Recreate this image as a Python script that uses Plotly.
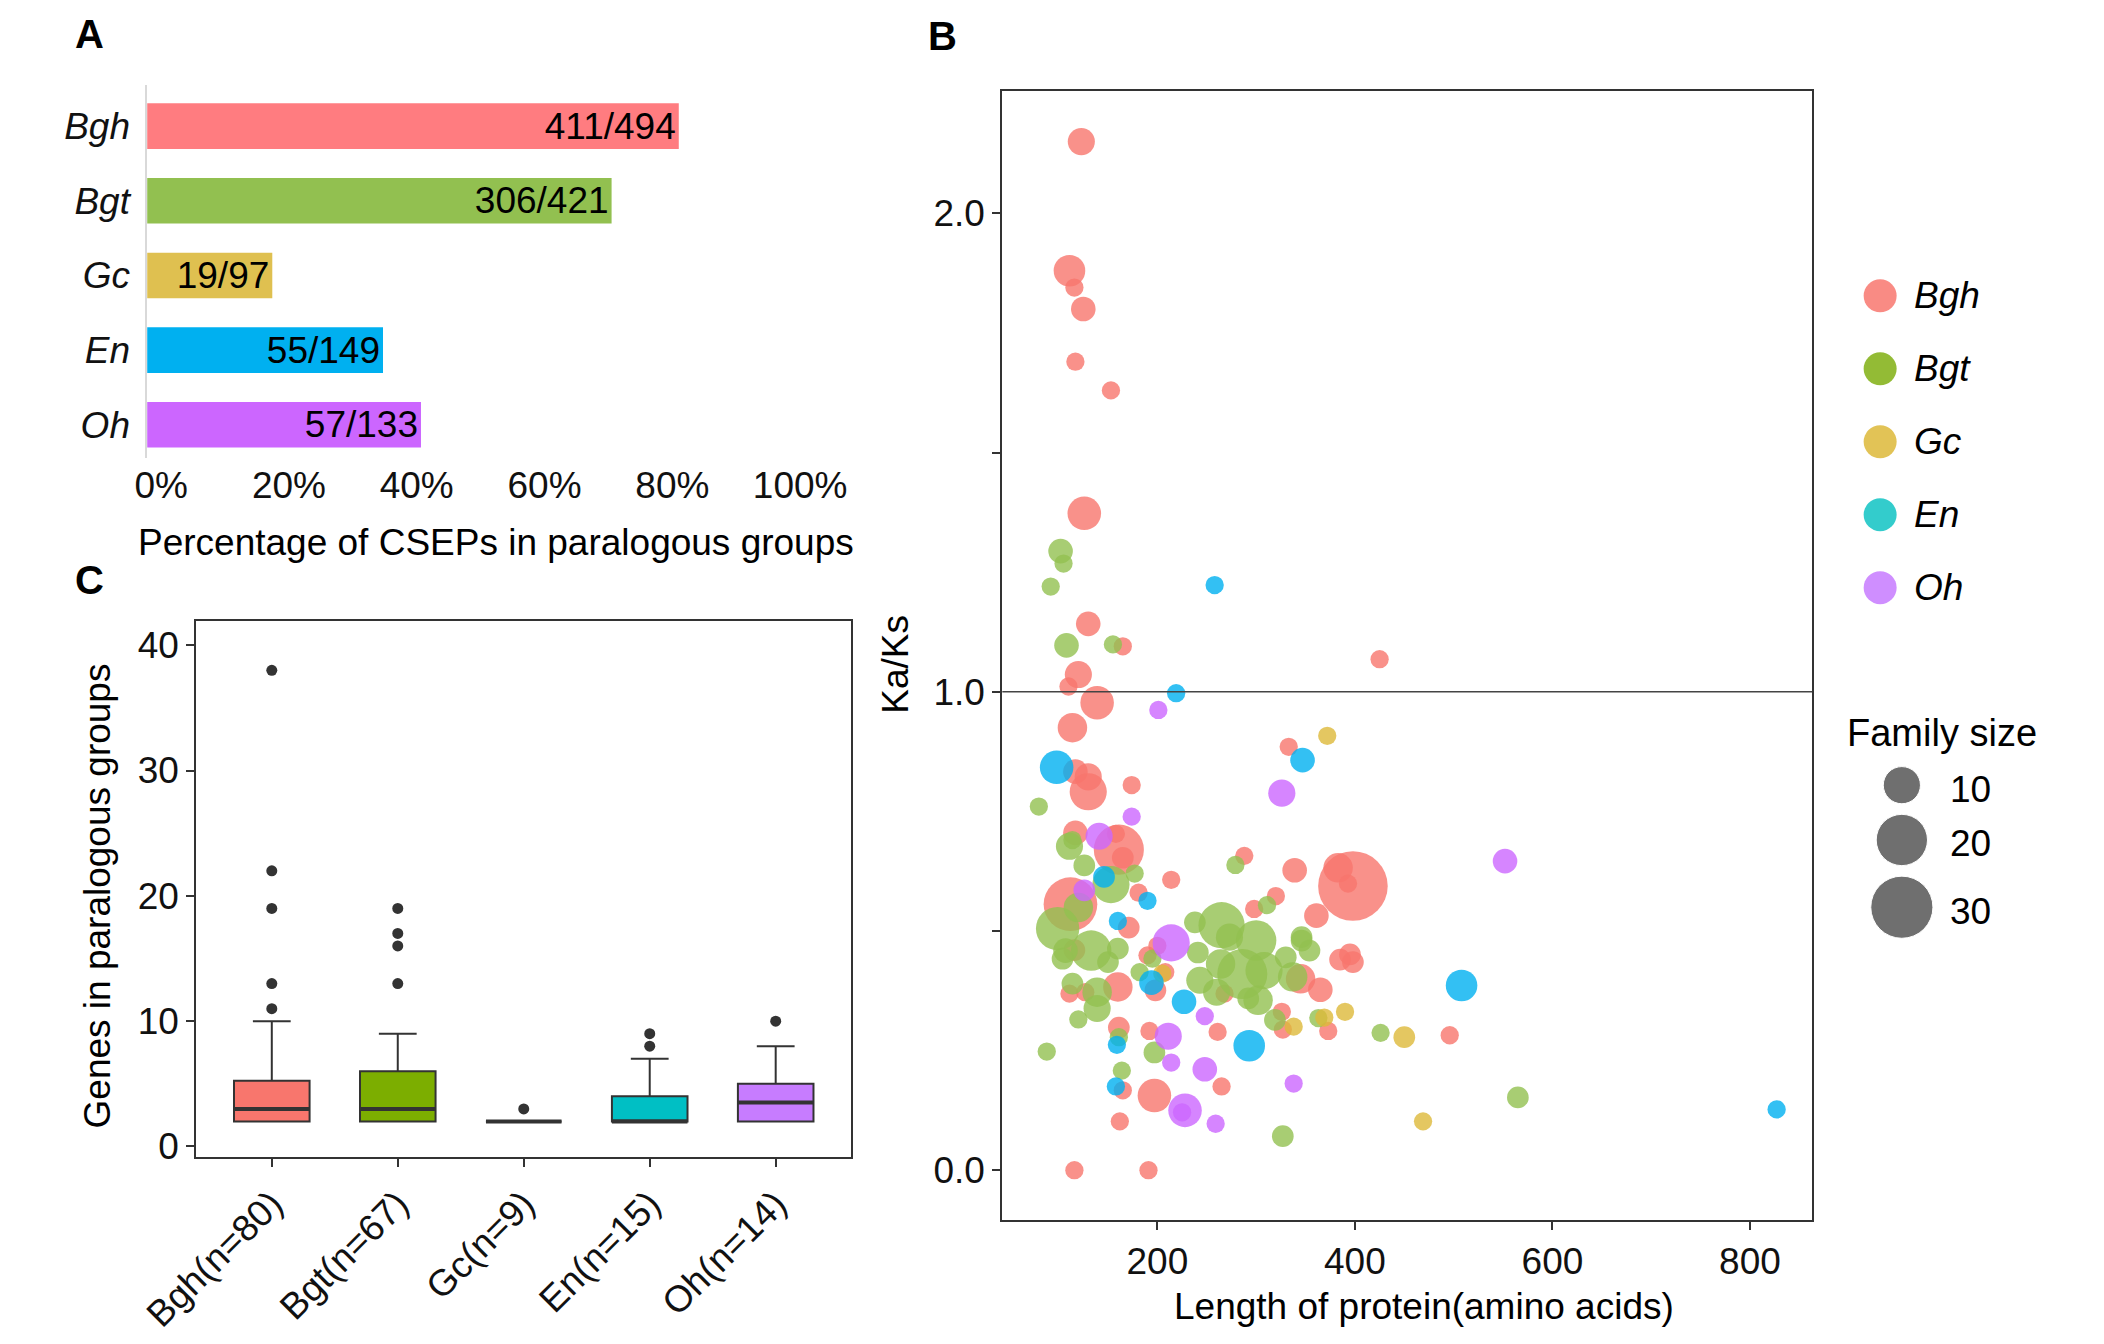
import numpy as np
import plotly.graph_objects as go

W, H = 2104, 1344
FONT = "Liberation Sans, Arial, sans-serif"
FS = 37

# ---- panel A data ----
species = ["Bgh", "Bgt", "Gc", "En", "Oh"]
cseps_paralog = [411, 306, 19, 55, 57]
cseps_total = [494, 421, 97, 149, 133]
bar_colors = ["#FF7C80", "#92C050", "#DFC050", "#00B0F0", "#CC66FF"]

# ---- panel C data (box stats) ----
box_labels = ["Bgh(n=80)", "Bgt(n=67)", "Gc(n=9)", "En(n=15)", "Oh(n=14)"]
box_q1 = [2, 2, 2, 2, 2]
box_median = [3, 3, 2, 2, 3.5]
box_q3 = [5.25, 6, 2, 4, 5]
box_low = [2, 2, 2, 2, 2]
box_high = [10, 9, 2, 7, 8]
box_colors = ["#F8766D", "#7CAE00", "#DDB93A", "#00BFC4", "#C77CFF"]
outlier_group = [0, 0, 0, 0, 0, 1, 1, 1, 1, 2, 3, 3, 4]
outlier_value = [11, 13, 19, 22, 38, 13, 16, 17, 19, 3, 8, 9, 10]

# ---- panel B data: length, Ka/Ks, family size ----
bgh_len = [123, 111, 116, 125, 117, 153, 126, 130, 165, 425, 120, 110, 139, 114, 117, 130, 130, 174, 117, 158,
           161, 165, 214, 181, 112, 171, 288, 333, 339, 398, 383, 393, 320, 298, 361, 116, 160, 111, 127, 161,
           165, 162, 116, 191, 197, 265, 192, 261, 208, 198, 190, 200, 268, 345, 365, 385, 395, 398, 326, 327,
           373, 496]
bgh_kaks = [2.15, 1.88, 1.845, 1.80, 1.69, 1.63, 1.373, 1.142, 1.095, 1.068, 1.036, 1.011, 0.977, 0.925, 0.833,
            0.822, 0.791, 0.805, 0.705, 0.703, 0.670, 0.653, 0.607, 0.580, 0.556, 0.507, 0.657, 0.885, 0.627,
            0.594, 0.632, 0.599, 0.573, 0.546, 0.532, 0.460, 0.383, 0.369, 0.372, 0.298, 0.167, 0.102, 0.0, 0.0,
            0.156, 0.175, 0.291, 0.289, 0.414, 0.376, 0.449, 0.469, 0.369, 0.400, 0.377, 0.440, 0.451, 0.435,
            0.331, 0.294, 0.291, 0.282]
bgh_size = [5, 7, 2, 4, 2, 2, 8, 4, 2, 2, 5, 2, 8, 6, 4, 5, 10, 2, 4, 2, 19, 3, 2, 2, 22, 3, 2, 2, 4, 38,
            6, 2, 2, 2, 4, 3, 6, 2, 2, 3, 2, 2, 2, 2, 8, 2, 2, 2, 2, 3, 2, 2, 2, 6, 4, 3, 3, 3, 2, 2, 2, 2]

bgt_len = [102, 105, 92, 108, 155, 80, 111, 114, 126, 177, 153, 99, 120, 238, 265, 279, 311, 346, 133, 107,
           104, 150, 160, 114, 139, 139, 120, 88, 161, 164, 197, 182, 195, 241, 243, 260, 264, 273, 300, 346,
           354, 330, 286, 308, 337, 302, 292, 319, 363, 426, 327, 565]
bgt_kaks = [1.294, 1.268, 1.220, 1.097, 1.099, 0.760, 0.677, 0.690, 0.637, 0.620, 0.597, 0.505, 0.549, 0.518,
            0.512, 0.638, 0.554, 0.487, 0.459, 0.459, 0.442, 0.435, 0.463, 0.390, 0.372, 0.338, 0.315, 0.248,
            0.278, 0.208, 0.246, 0.414, 0.442, 0.455, 0.397, 0.372, 0.431, 0.487, 0.480, 0.480, 0.459, 0.445,
            0.410, 0.417, 0.404, 0.355, 0.359, 0.314, 0.318, 0.287, 0.071, 0.152]
bgt_size = [4, 2, 2, 4, 2, 2, 5, 2, 3, 2, 10, 14, 6, 3, 16, 2, 2, 3, 12, 4, 3, 3, 3, 3, 6, 5, 2, 2, 2, 2,
            3, 2, 2, 3, 5, 5, 6, 5, 12, 3, 3, 3, 19, 10, 6, 6, 3, 3, 2, 2, 3, 3]

gc_len = [372, 205, 390, 338, 369, 450, 469]
gc_kaks = [0.908, 0.411, 0.331, 0.300, 0.319, 0.278, 0.102]
gc_size = [2, 2, 2, 2, 2, 3, 2]

en_len = [258, 219, 98, 146, 190, 160, 347, 159, 158, 227, 293, 194, 508, 827]
en_kaks = [1.223, 0.997, 0.842, 0.613, 0.563, 0.521, 0.857, 0.262, 0.175, 0.352, 0.260, 0.392, 0.386, 0.127]
en_size = [2, 2, 8, 3, 2, 2, 4, 2, 2, 4, 7, 4, 7, 2]

oh_len = [201, 174, 141, 126, 214, 326, 552, 228, 225, 259, 248, 214, 211, 248, 338]
oh_kaks = [0.962, 0.739, 0.698, 0.585, 0.475, 0.788, 0.646, 0.125, 0.121, 0.097, 0.211, 0.225, 0.280,
           0.322, 0.181]
oh_size = [2, 2, 5, 3, 10, 5, 4, 8, 2, 2, 4, 2, 5, 2, 2]

point_colors = ["#F8766D", "#92C050", "#DDB93A", "#00B0F0", "#CC66FF"]
legend_colors = ["#F98B84", "#93BB35", "#E2C356", "#33CCCC", "#CF8EFF"]
size_breaks = [10, 20, 30]


def fx(p):
    return p / W


def fy(p):
    return 1 - p / H


def diam(v):
    return 3 + 10.8 * np.sqrt(np.asarray(v, dtype=float))


fig = go.Figure()

# Panel A: horizontal bars
pct = [n / d * 100 for n, d in zip(cseps_paralog, cseps_total)]
fig.add_trace(go.Bar(
    x=pct, y=list(range(len(species))), orientation="h", width=0.61,
    marker=dict(color=bar_colors, line=dict(width=0)),
    text=[f"{n}/{d}" for n, d in zip(cseps_paralog, cseps_total)],
    textposition="inside", insidetextanchor="end", constraintext="none",
    textfont=dict(size=FS, color="black", family=FONT),
    xaxis="x", yaxis="y", hoverinfo="skip"))

# Panel B: bubble scatter
groups = [(bgh_len, bgh_kaks, bgh_size), (bgt_len, bgt_kaks, bgt_size), (gc_len, gc_kaks, gc_size),
          (en_len, en_kaks, en_size), (oh_len, oh_kaks, oh_size)]
for (lx, ky, sz), col in zip(groups, point_colors):
    fig.add_trace(go.Scatter(
        x=lx, y=ky, mode="markers", xaxis="x2", yaxis="y2",
        marker=dict(size=diam(sz), color=col, opacity=0.8, line=dict(width=0)),
        hoverinfo="skip"))

fig.add_shape(type="line", xref="x2 domain", x0=0, x1=1, yref="y2", y0=1, y1=1,
              line=dict(color="#444444", width=1.5))

# Panel C: boxplots
for i in range(len(box_labels)):
    fig.add_trace(go.Box(
        x=[i], q1=[box_q1[i]], median=[box_median[i]], q3=[box_q3[i]],
        lowerfence=[box_low[i]], upperfence=[box_high[i]], width=0.6,
        fillcolor=box_colors[i], line=dict(color="#333333", width=2),
        boxpoints=False, xaxis="x3", yaxis="y3", hoverinfo="skip"))
mx, my = [], []
for i, m in enumerate(box_median):
    mx += [i - 0.3, i + 0.3, None]
    my += [m, m, None]
fig.add_trace(go.Scatter(x=mx, y=my, mode="lines", line=dict(color="#333333", width=4),
                         xaxis="x3", yaxis="y3", hoverinfo="skip"))
fig.add_trace(go.Scatter(x=outlier_group, y=outlier_value, mode="markers",
                         marker=dict(size=11, color="#333333"), xaxis="x3", yaxis="y3", hoverinfo="skip"))

# Legends for panel B (drawn on a pixel-mapped full-page axis)
LEG_X, LEG_TOP, LEG_STEP = 1923, 290, 73.5
fig.add_trace(go.Scatter(
    x=[LEG_X] * len(species), y=[LEG_TOP + i * LEG_STEP for i in range(len(species))],
    mode="markers", marker=dict(size=33, color=legend_colors), xaxis="x4", yaxis="y4", hoverinfo="skip"))

ds = diam(size_breaks)
sy = [783.0]
for k in range(1, len(ds)):
    sy.append(sy[-1] + (ds[k - 1] + ds[k]) / 2 + 11)
fig.add_trace(go.Scatter(
    x=[1946] * len(size_breaks), y=sy, mode="markers",
    marker=dict(size=ds, color="#333333"), xaxis="x4", yaxis="y4", hoverinfo="skip"))

ann = []
for i, s in enumerate(species):
    ann.append(dict(x=1957, y=LEG_TOP + i * LEG_STEP, xref="x4", yref="y4", text=f"<i>{s}</i>",
                    showarrow=False, xanchor="left", yanchor="middle", font=dict(size=FS)))
for v, yy in zip(size_breaks, sy):
    ann.append(dict(x=1995, y=yy + 4, xref="x4", yref="y4", text=str(v), showarrow=False,
                    xanchor="left", yanchor="middle", font=dict(size=FS)))
ann.append(dict(x=1988, y=730, xref="x4", yref="y4", text="Family size", showarrow=False,
                xanchor="center", yanchor="middle", font=dict(size=FS + 1)))

# titles and panel letters
titles = [
    dict(x=457, y=538, text="Percentage of CSEPs in paralogous groups", textangle=0),
    dict(x=1440, y=1308, text="Length of protein(amino acids)", textangle=0),
    dict(x=879, y=661, text="Ka/Ks", textangle=-90),
    dict(x=34, y=895, text="Genes in paralogous groups", textangle=-90),
]
for a in titles:
    a.update(xref="x4", yref="y4", showarrow=False, xanchor="center", yanchor="middle", font=dict(size=FS))
ann += titles
for letter, lx, ly in [("A", 26, 26), ("B", 930, 28), ("C", 26, 576)]:
    ann.append(dict(x=lx, y=ly, xref="x4", yref="y4", text=f"<b>{letter}</b>", showarrow=False,
                    xanchor="center", yanchor="middle", font=dict(size=40)))

tickfont = dict(size=FS, color="#111111", family=FONT)
frame = dict(showline=True, mirror=True, linecolor="#333333", linewidth=2, ticks="outside",
             ticklen=8, tickwidth=2, tickcolor="#333333", showgrid=False, zeroline=False, tickfont=tickfont)

fig.update_layout(
    width=W, height=H, margin=dict(l=0, r=0, t=0, b=0),
    paper_bgcolor="white", plot_bgcolor="rgba(0,0,0,0)", showlegend=False,
    font=dict(family=FONT, size=FS, color="black"),
    annotations=ann,
    xaxis=dict(domain=[fx(87), fx(764)], range=[0, 100], anchor="y",
               tickvals=[0, 20, 40, 60, 80, 100], ticktext=["0%", "20%", "40%", "60%", "80%", "100%"],
               ticks="", showline=False, showgrid=False, zeroline=False, tickfont=tickfont,
               ticklabelshift=14, ticklabelstandoff=2),
    yaxis=dict(domain=[fy(453), fy(78)], range=[4.44, -0.545], anchor="x",
               tickvals=list(range(len(species))), ticktext=[f"<i>{s}</i>" for s in species],
               ticks="", showline=True, linecolor="#d9d9d9", linewidth=1.5, showgrid=False,
               zeroline=False, tickfont=tickfont, ticklabelstandoff=8),
    xaxis2=dict(domain=[fx(993), fx(1851)], range=[43, 863], anchor="y2",
                tickvals=[200, 400, 600, 800], **frame),
    yaxis2=dict(domain=[fy(1221), fy(84)], range=[-0.104, 2.255], anchor="x2",
                tickvals=[0, 0.5, 1, 1.5, 2], ticktext=["0.0", "", "1.0", "", "2.0"], **frame),
    xaxis3=dict(domain=[fx(139), fx(833)], range=[-0.6, 4.6], anchor="y3",
                tickvals=list(range(len(box_labels))), ticktext=box_labels, tickangle=-45, **frame),
    yaxis3=dict(domain=[fy(1158), fy(618)], range=[-0.87, 41.9], anchor="x3",
                tickvals=[0, 10, 20, 30, 40], **frame),
    xaxis4=dict(domain=[0, 1], range=[0, W], anchor="y4", visible=False, fixedrange=True),
    yaxis4=dict(domain=[0, 1], range=[H, 0], anchor="x4", visible=False, fixedrange=True),
)

fig.write_html("out.html")
